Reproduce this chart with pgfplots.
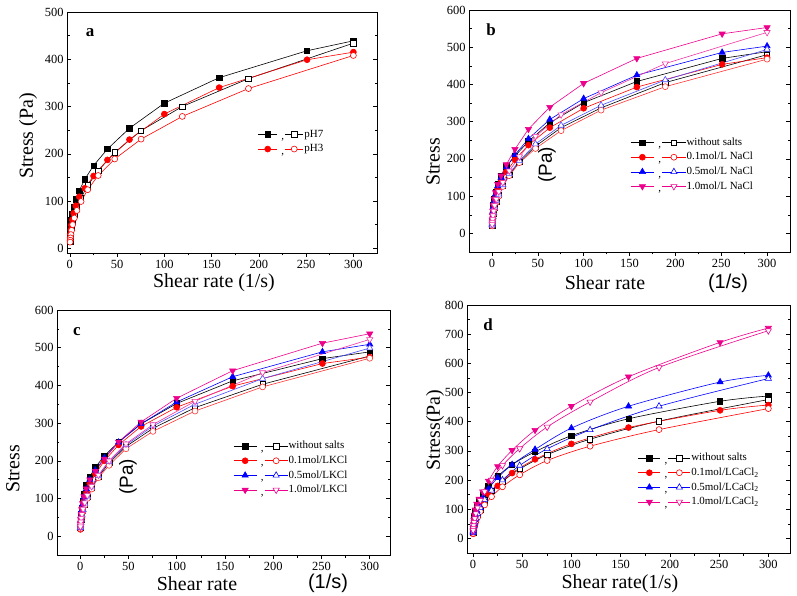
\documentclass[border=0pt]{standalone}
\usepackage{pgfplots}
\pgfplotsset{compat=1.18}
\usepackage{pgfplotstable}
\usepackage{fontspec}
\setmainfont{Liberation Serif}
\newfontfamily\arial{Liberation Sans}

% up sweep (filled) and down sweep (open) for each panel
\pgfplotstableread{
x blk red
0.25 20 16
0.4 28 22
0.63 38 30
1 48 39
1.58 60 49
2.51 72 60
3.98 87 74
6.31 104 90
10 122 109
15.8 146 127
25.1 175 153
39.8 210 187
63.1 254 230
100 307 284
158 361 340
251 418 399
300 439 415
}\aF
\pgfplotstableread{
x blk red
300 434 408
189 359 338
119 300 279
75.4 249 231
47.5 203 189
30 164 154
18.9 133 124
11.9 107 99
7.5 88 80
4.75 72 64
3 56 50
1.89 44 38
1.19 33 29
0.75 25 22
0.47 19 17
0.3 14 13
}\aO
\pgfplotstableread{
x blk red blu mag
0.25 25 22 24 26
0.4 35 30 33 35
0.63 48 42 45 47
1 62 55 58 60
1.58 77 68 72 75
2.51 93 83 88 92
3.98 110 100 105 110
6.31 132 120 127 132
10 155 142 150 155
15.8 180 165 178 185
25.1 208 198 211 226
39.8 247 237 254 280
63.1 297 284 306 339
100 351 336 362 403
158 408 393 425 470
251 470 454 486 536
300 488 472 503 553
}\bF
\pgfplotstableread{
x blk red blu mag
300 480 468 494 540
189 405 394 412 456
119 337 331 344 378
75.4 284 276 290 319
47.5 234 228 240 261
30 192 190 195 206
18.9 157 155 160 168
11.9 128 126 130 137
7.5 103 100 105 112
4.75 85 83 88 92
3 68 66 70 75
1.89 53 51 55 60
1.19 42 40 44 48
0.75 33 31 35 38
0.47 26 25 28 30
0.3 21 20 22 24
}\bO
\pgfplotstableread{
x blk red blu mag
0.25 25 18 22 24
0.4 34 26 31 33
0.63 46 37 42 44
1 60 50 55 57
1.58 75 63 69 71
2.51 92 78 85 87
3.98 112 95 103 105
6.31 135 115 125 126
10 158 140 150 150
15.8 183 165 175 172
25.1 213 200 208 205
39.8 250 242 249 250
63.1 298 291 298 303
100 352 342 356 366
158 412 398 423 439
251 471 458 489 512
300 489 475 509 537
}\cF
\pgfplotstableread{
x blk red blu mag
300 478 472 499 522
189 403 396 418 434
119 341 332 350 358
75.4 286 278 292 296
47.5 238 232 242 245
30 194 188 198 200
18.9 158 155 160 162
11.9 128 125 130 132
7.5 104 100 106 108
4.75 85 82 87 89
3 68 65 70 72
1.89 54 51 56 58
1.19 43 40 45 47
0.75 34 31 36 38
0.47 27 25 29 30
0.3 22 20 23 25
}\cO
\pgfplotstableread{
x blk red blu mag
0.25 22 16 20 25
0.4 32 23 28 35
0.63 45 32 38 48
1 60 43 50 63
1.58 76 55 64 80
2.51 94 68 79 98
3.98 112 82 95 118
6.31 130 100 115 135
10 150 125 140 160
15.8 180 152 170 197
25.1 213 180 208 247
39.8 253 224 253 302
63.1 297 271 305 371
100 352 324 378 453
158 410 380 453 554
251 470 439 536 672
300 488 457 559 721
}\dF
\pgfplotstableread{
x blk red blu mag
300 476 445 548 712
189 402 373 453 586
119 340 316 372 468
75.4 287 267 307 382
47.5 238 218 250 308
30 195 177 200 250
18.9 163 143 165 200
11.9 130 115 133 160
7.5 100 92 105 130
4.75 82 72 85 105
3 65 57 68 85
1.89 52 45 54 68
1.19 41 35 43 55
0.75 32 27 34 44
0.47 25 21 27 35
0.3 20 17 22 28
}\dO

% marker styles, shared by plots and legend samples
\tikzset{
  mSqF/.style={mark=square*, mark size=2.7pt, mark options={solid, fill=black}},
  mSqO/.style={mark=square*, mark size=2.7pt, mark options={solid, fill=white}},
  mCiF/.style={mark=*, mark size=3pt, mark options={solid}},
  mCiO/.style={mark=*, mark size=3pt, mark options={solid, fill=white}},
  mTrF/.style={mark=triangle*, mark size=3.6pt, mark options={solid}},
  mTrO/.style={mark=triangle*, mark size=3.6pt, mark options={solid, fill=white}},
  mTdF/.style={mark=triangle*, mark size=3.6pt, mark options={solid, rotate=180}},
  mTdO/.style={mark=triangle*, mark size=3.6pt, mark options={solid, rotate=180, fill=white}},
}

% legend sample: line+filled mark , line+open mark
\newcommand{\pairleg}[4]{%
  \pgfmathsetmacro\legA{0.5*#4}%
  \pgfmathsetmacro\legB{#4+4}%
  \pgfmathsetmacro\legC{#4+8}%
  \pgfmathsetmacro\legD{2*#4+8}%
  \pgfmathsetmacro\legE{1.5*#4+8}%
  \begin{scope}[x=1bp,y=1bp]
    \draw[#1,line width=0.6pt] (0,0) -- (#4,0);
    \path[#1,line width=0.6pt,#2] plot coordinates {(\legA,0)};
    \node[inner sep=0pt,text=black,font=\fontsize{11}{13}\selectfont] at (\legB,-2.5) {,};
    \draw[#1,line width=0.6pt] (\legC,0) -- (\legD,0);
    \path[#1,line width=0.6pt,#3] plot coordinates {(\legE,0)};
  \end{scope}}

\pgfplotsset{
  panel/.style={
    scale only axis,
    axis line style={line width=0.6pt},
    xtick align=outside, ytick align=inside,
    xtick pos=left, ytick pos=both,
    xtick={0,50,...,300},
    minor x tick num=1, minor y tick num=1,
    major tick length=4bp, minor tick length=2.5bp,
    every tick/.style={black, line width=0.5pt},
    tick label style={font=\fontsize{12.5}{14}\selectfont},
    /pgf/number format/assume math mode=true,
    legend cell align=left,
    legend style={draw=none, fill=none, anchor=north west, inner sep=0pt,
      font=\fontsize{11}{13}\selectfont, row sep=1bp,
      nodes={inner sep=0.6bp, text height=8bp, text depth=2.5bp}},
  },
  every axis plot/.append style={line width=0.6pt},
}

\begin{document}
\begin{tikzpicture}
\useasboundingbox (0,0) rectangle (797bp,596bp);

% ---------------- a ----------------
\begin{axis}[panel, at={(67bp,343bp)}, anchor=south west, width=310bp, height=241bp,
  xmin=-3, xmax=325, ymin=-10, ymax=500, ytick={0,100,...,500},
  legend style={at={(0.616,0.517)}}]
\addplot[black, forget plot, mSqF] table[x=x,y=blk]{\aF};
\addplot[black, forget plot, mSqO] table[x=x,y=blk]{\aO};
\addplot[red, forget plot, mCiF] table[x=x,y=red]{\aF};
\addplot[red, forget plot, mCiO] table[x=x,y=red]{\aO};
\addlegendimage{legend image code/.code={\pairleg{black}{mSqF}{mSqO}{18.5}}}
\addlegendentry{pH7}
\addlegendimage{legend image code/.code={\pairleg{red}{mCiF}{mCiO}{18.5}}}
\addlegendentry{pH3}
\end{axis}
\node[font=\fontsize{17}{20}\selectfont\bfseries] at (90bp,563bp) {a};
\node[rotate=90, font=\fontsize{20}{24}\selectfont] at (28bp,460bp) {Stress (Pa)};
\node[font=\fontsize{20}{24}\selectfont] at (214bp,313bp) {Shear rate (1/s)};

% ---------------- b ----------------
\begin{axis}[panel, at={(469bp,344bp)}, anchor=south west, width=321bp, height=242bp,
  xmin=-25, xmax=325, ymin=-50, ymax=600, ytick={0,100,...,600},
  legend style={at={(0.502,0.477)}}]
\addplot[black, forget plot, mSqF] table[x=x,y=blk]{\bF};
\addplot[black, forget plot, mSqO] table[x=x,y=blk]{\bO};
\addplot[red, forget plot, mCiF] table[x=x,y=red]{\bF};
\addplot[red!80, forget plot, mCiO] table[x=x,y=red]{\bO};
\addplot[blue, forget plot, mTrF] table[x=x,y=blu]{\bF};
\addplot[blue!70, forget plot, mTrO] table[x=x,y=blu]{\bO};
\addplot[magenta, forget plot, mTdF] table[x=x,y=mag]{\bF};
\addplot[magenta!80, forget plot, mTdO] table[x=x,y=mag]{\bO};
\addlegendimage{legend image code/.code={\pairleg{black}{mSqF}{mSqO}{23.5}}}
\addlegendentry{without salts}
\addlegendimage{legend image code/.code={\pairleg{red}{mCiF}{mCiO}{23.5}}}
\addlegendentry{0.1mol/L NaCl}
\addlegendimage{legend image code/.code={\pairleg{blue}{mTrF}{mTrO}{23.5}}}
\addlegendentry{0.5mol/L NaCl}
\addlegendimage{legend image code/.code={\pairleg{magenta}{mTdF}{mTdO}{23.5}}}
\addlegendentry{1.0mol/L NaCl}
\end{axis}
\node[font=\fontsize{17}{20}\selectfont\bfseries] at (491bp,566bp) {b};
\node[rotate=90, font=\fontsize{20}{24}\selectfont] at (433bp,434bp) {Stress};
\node[rotate=90, font=\arial\fontsize{19}{22}\selectfont] at (547bp,431bp) {(Pa)};
\node[font=\fontsize{20}{24}\selectfont] at (605bp,313bp) {Shear rate};
\node[font=\arial\fontsize{20}{24}\selectfont] at (728bp,313bp) {(1/s)};

% ---------------- c ----------------
\begin{axis}[panel, at={(57bp,41bp)}, anchor=south west, width=333bp, height=245bp,
  xmin=-24, xmax=321, ymin=-50, ymax=600, ytick={0,100,...,600},
  legend style={at={(0.529,0.469)}}]
\addplot[black, forget plot, mSqF] table[x=x,y=blk]{\cF};
\addplot[black, forget plot, mSqO] table[x=x,y=blk]{\cO};
\addplot[red, forget plot, mCiF] table[x=x,y=red]{\cF};
\addplot[red!80, forget plot, mCiO] table[x=x,y=red]{\cO};
\addplot[blue, forget plot, mTrF] table[x=x,y=blu]{\cF};
\addplot[blue!70, forget plot, mTrO] table[x=x,y=blu]{\cO};
\addplot[magenta, forget plot, mTdF] table[x=x,y=mag]{\cF};
\addplot[magenta!80, forget plot, mTdO] table[x=x,y=mag]{\cO};
\addlegendimage{legend image code/.code={\pairleg{black}{mSqF}{mSqO}{23}}}
\addlegendentry{without salts}
\addlegendimage{legend image code/.code={\pairleg{red}{mCiF}{mCiO}{23}}}
\addlegendentry{0.1mol/LKCl}
\addlegendimage{legend image code/.code={\pairleg{blue}{mTrF}{mTrO}{23}}}
\addlegendentry{0.5mol/LKCl}
\addlegendimage{legend image code/.code={\pairleg{magenta}{mTdF}{mTdO}{23}}}
\addlegendentry{1.0mol/LKCl}
\end{axis}
\node[font=\fontsize{17}{20}\selectfont\bfseries] at (77bp,264bp) {c};
\node[rotate=90, font=\fontsize{20}{24}\selectfont] at (13bp,127bp) {Stress};
\node[rotate=90, font=\arial\fontsize{19}{22}\selectfont] at (128bp,119bp) {(Pa)};
\node[font=\fontsize{20}{24}\selectfont] at (197bp,12bp) {Shear rate};
\node[font=\arial\fontsize{20}{24}\selectfont] at (328bp,13bp) {(1/s)};

% ---------------- d ----------------
\begin{axis}[panel, at={(467bp,43bp)}, anchor=south west, width=323bp, height=248bp,
  xmin=-6, xmax=322, ymin=-50, ymax=800, ytick={0,100,...,800},
  legend style={at={(0.529,0.407)}}]
\addplot[black, smooth, forget plot, mSqF] table[x=x,y=blk]{\dF};
\addplot[black, smooth, forget plot, mSqO] table[x=x,y=blk]{\dO};
\addplot[red, smooth, forget plot, mCiF] table[x=x,y=red]{\dF};
\addplot[red, smooth, forget plot, mCiO] table[x=x,y=red]{\dO};
\addplot[blue, smooth, forget plot, mTrF] table[x=x,y=blu]{\dF};
\addplot[blue, smooth, forget plot, mTrO] table[x=x,y=blu]{\dO};
\addplot[magenta, smooth, forget plot, mTdF] table[x=x,y=mag]{\dF};
\addplot[magenta, smooth, forget plot, mTdO] table[x=x,y=mag]{\dO};
\addlegendimage{legend image code/.code={\pairleg{black}{mSqF}{mSqO}{22}}}
\addlegendentry{without salts}
\addlegendimage{legend image code/.code={\pairleg{red}{mCiF}{mCiO}{22}}}
\addlegendentry{0.1mol/LCaCl\textsubscript{2}}
\addlegendimage{legend image code/.code={\pairleg{blue}{mTrF}{mTrO}{22}}}
\addlegendentry{0.5mol/LCaCl\textsubscript{2}}
\addlegendimage{legend image code/.code={\pairleg{magenta}{mTdF}{mTdO}{22}}}
\addlegendentry{1.0mol/LCaCl\textsubscript{2}}
\end{axis}
\node[font=\fontsize{17}{20}\selectfont\bfseries] at (488bp,271bp) {d};
\node[rotate=90, font=\fontsize{20}{24}\selectfont] at (435bp,166bp) {Stress(Pa)};
\node[font=\fontsize{20}{24}\selectfont] at (620bp,12bp) {Shear rate(1/s)};
\end{tikzpicture}
\end{document}
